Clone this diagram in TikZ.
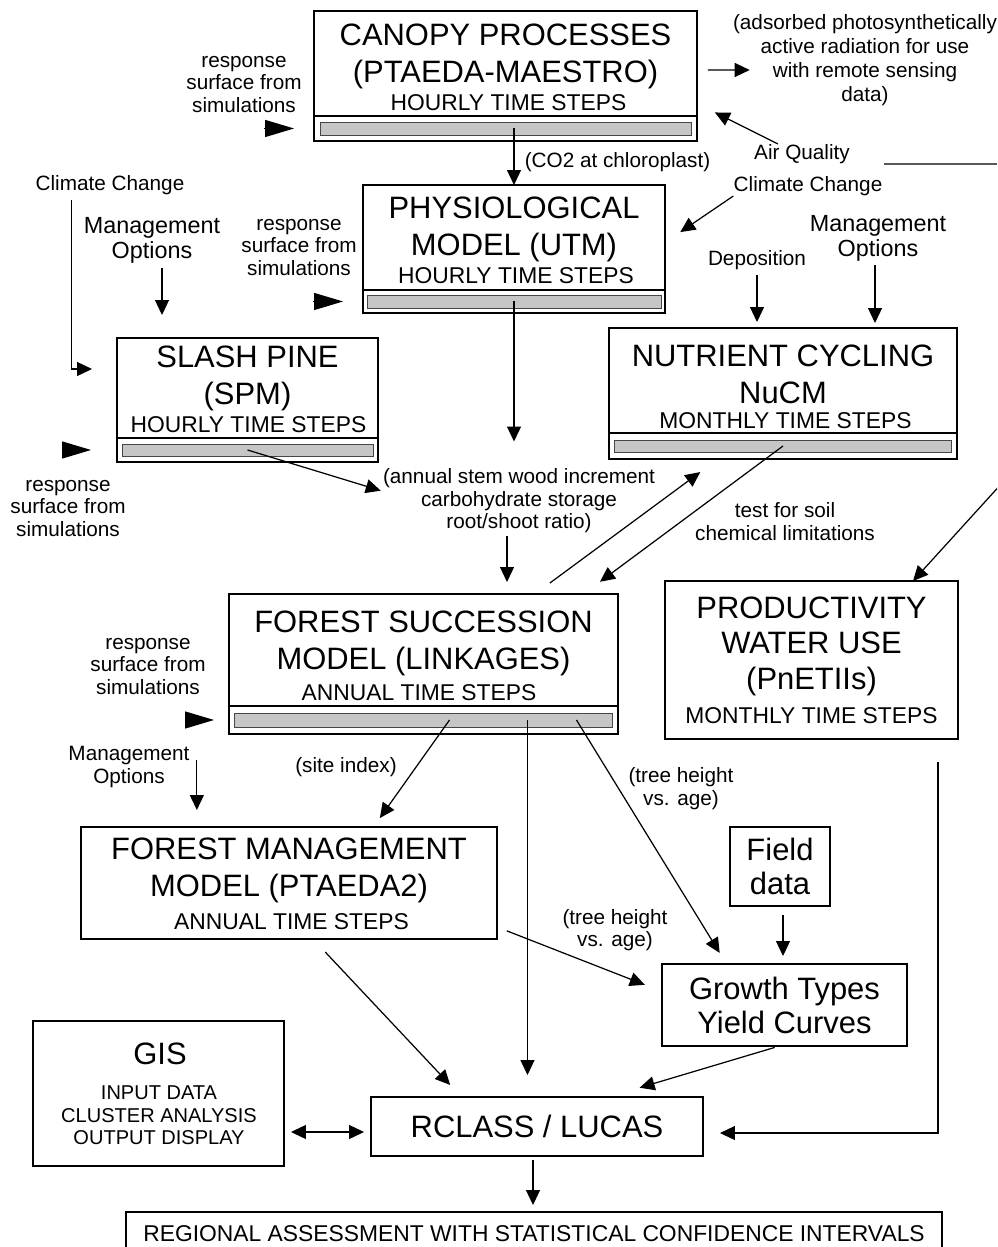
\documentclass[tikz,border=0pt]{standalone}
\usepackage{fontspec}
\setmainfont{Liberation Sans}
\usetikzlibrary{positioning, calc, arrows.meta}

\tikzset{
	box/.style={draw, line width=0.9pt, inner sep=0pt, outer sep=0pt},
	bar/.style={draw=gray!55!black, fill=gray!45, line width=0.4pt, inner sep=0pt},
	ttl/.style={font=\fontsize{17.6}{21}\selectfont, align=center, inner sep=0pt},
	sub/.style={font=\fontsize{13}{15}\selectfont, inner sep=0pt},
	lbl/.style={font=\fontsize{11.8}{12.8}\selectfont, align=center, inner sep=0pt},
	mgt/.style={font=\fontsize{13.3}{14.2}\selectfont, align=center, inner sep=0pt},
	arr/.style={line width=0.7pt, -{Triangle[length=0.3cm,width=0.28cm]}},
	arrs/.style={line width=0.7pt, {Triangle[length=0.3cm,width=0.28cm]}-{Triangle[length=0.3cm,width=0.28cm]}},
	resp/.style={line width=0.7pt, -{Triangle[length=0.58cm,width=0.34cm]}}
}

\begin{document}
\begin{tikzpicture}[x=0.02cm, y=-0.02cm]
	\useasboundingbox (0,0) rectangle (997,1247);
	\clip (0,0) rectangle (997,1247);

	% model boxes with a time step bar
	\node[box, minimum width=7.66cm, minimum height=2.1cm] (canopy) at (505.5,63.5) {};
	\node[box, minimum width=7.66cm, minimum height=0.5cm, below=0pt of canopy] (canlow) {};
	\node[bar, minimum width=7.42cm, minimum height=0.26cm] (canbar) at (canlow) {};
	\node[ttl] (canT) at (505.5,56.8) {CANOPY PROCESSES\\(PTAEDA-MAESTRO)};
	\node[sub] (canS) at (508.5,103) {HOURLY TIME STEPS};

	\node[box, minimum width=6.04cm, minimum height=2.1cm] (physio) at (514,237.5) {};
	\node[box, minimum width=6.04cm, minimum height=0.46cm, below=0pt of physio] (physlow) {};
	\node[bar, minimum width=5.88cm, minimum height=0.26cm] (physbar) at (physlow) {};
	\node[ttl] (physT) at (514,229.8) {PHYSIOLOGICAL\\MODEL (UTM)};
	\node[sub] (physS) at (516,276) {HOURLY TIME STEPS};

	\node[box, minimum width=5.22cm, minimum height=2.0cm] (slash) at (247.5,388) {};
	\node[box, minimum width=5.22cm, minimum height=0.48cm, below=0pt of slash] (slashlow) {};
	\node[bar, minimum width=5.02cm, minimum height=0.24cm] (slashbar) at (slashlow) {};
	\node[ttl] (slashT) at (247.5,378.3) {SLASH PINE\\(SPM)};
	\node[sub] (slashS) at (248.5,425) {HOURLY TIME STEPS};

	\node[box, minimum width=6.96cm, minimum height=2.1cm] (nut) at (783,380.5) {};
	\node[box, minimum width=6.96cm, minimum height=0.52cm, below=0pt of nut] (nutlow) {};
	\node[bar, minimum width=6.74cm, minimum height=0.24cm] (nutbar) at (nutlow) {};
	\node[ttl] (nutT) at (783,374) {NUTRIENT CYCLING\\NuCM};
	\node[sub] (nutS) at (785.5,421) {MONTHLY TIME STEPS};

	\node[box, minimum width=7.78cm, minimum height=2.24cm] (fs) at (423.5,650) {};
	\node[box, minimum width=7.78cm, minimum height=0.56cm, below=0pt of fs] (fslow) {};
	\node[bar, minimum width=7.56cm, minimum height=0.28cm] (fsbar) at (fslow) {};
	\node[ttl] (fsT) at (423.5,643.3) {FOREST SUCCESSION\\MODEL (LINKAGES)};
	\node[sub] (fsS) at (419,693) {ANNUAL TIME STEPS};

	% plain boxes
	\node[box, minimum width=5.86cm, minimum height=3.16cm] (prod) at (811.5,660) {};
	\node[ttl, font=\fontsize{17.6}{20}\selectfont] (prodT) at (811.5,646.3) {PRODUCTIVITY\\WATER USE\\(PnETIIs)};
	\node[sub] (prodS) at (811.5,716) {MONTHLY TIME STEPS};

	\node[box, minimum width=8.32cm, minimum height=2.24cm] (fm) at (289,883) {};
	\node[ttl] (fmT) at (289,870.8) {FOREST MANAGEMENT\\MODEL (PTAEDA2)};
	\node[sub] (fmS) at (291.5,922) {ANNUAL TIME STEPS};

	\node[box, ttl, font=\fontsize{17.6}{19.4}\selectfont, minimum width=2cm, minimum height=1.58cm] (field) at (780,866.5) {Field\\data};
	\node[box, ttl, font=\fontsize{17.6}{19.4}\selectfont, minimum width=4.9cm, minimum height=1.64cm] (growth) at (784.5,1005) {Growth Types\\Yield Curves};

	\node[box, minimum width=5.02cm, minimum height=2.9cm] (gis) at (158.5,1093.5) {};
	\node[ttl] (gisT) at (160,1054) {GIS};
	\node[lbl, font=\fontsize{11.4}{12.8}\selectfont] (gisS) at (159,1115.5) {INPUT DATA\\CLUSTER ANALYSIS\\OUTPUT DISPLAY};

	\node[box, ttl, minimum width=6.64cm, minimum height=1.18cm] (rclass) at (537,1126.5) {RCLASS / LUCAS};
	\node[box, sub, minimum width=16.32cm, minimum height=0.88cm] (regional) at (534,1234) {REGIONAL ASSESSMENT WITH STATISTICAL CONFIDENCE INTERVALS};

	% labels
	\node[lbl, font=\fontsize{11.8}{13.6}\selectfont] (apar) at (865,60) {(adsorbed photosynthetically\\active radiation for use\\with remote sensing\\data)};
	\node[lbl] (rcan) at (244,84.5) {response\\surface from\\simulations};
	\node[lbl] (rphy) at (299,247.5) {response\\surface from\\simulations};
	\node[lbl] (rsla) at (68,508.5) {response\\surface from\\simulations};
	\node[lbl] (rfs) at (148,666.5) {response\\surface from\\simulations};
	\node[lbl] (co2) at (617.5,162) {(CO2 at chloroplast)};
	\node[lbl] (aq) at (802,154) {Air Quality};
	\node[lbl] (cc2) at (808,186) {Climate Change};
	\node[lbl] (cc1) at (110,185) {Climate Change};
	\node[lbl] (dep) at (757,260) {Deposition};
	\node[mgt] (mgr) at (878,238.5) {Management\\Options};
	\node[mgt] (mgl) at (152,240.5) {Management\\Options};
	\node[lbl] (annual) at (519,501) {(annual stem wood increment\\carbohydrate storage\\root/shoot ratio)};
	\node[lbl] (soil) at (785,521.5) {test for soil\\chemical limitations};
	\node[lbl] (site) at (346,767) {(site index)};
	\node[lbl] (th1) at (681,788.5) {(tree height\\vs. age)};
	\node[lbl] (th2) at (615,930) {(tree height\\vs. age)};
	\node[lbl] (mgs) at (129,767) {Management\\Options};

	% response surface inputs
	\draw[resp, shorten >=0.4cm] ([xshift=-1cm]canlow.west) -- (canlow.west);
	\draw[resp, shorten >=0.4cm] ([xshift=-1cm]physlow.west) -- (physlow.west);
	\draw[resp, shorten >=0.52cm] ([xshift=-1.1cm]slashlow.west) -- (slashlow.west);
	\draw[resp, shorten >=0.3cm] ([xshift=-0.88cm]fslow.west) -- (fslow.west);

	% top part
	\draw[arr, shorten <=0.22cm] ([yshift=-0.13cm]canopy.east) -- ([xshift=0.34cm,yshift=-0.2cm]apar.west);
	\draw[arr] (physbar |- canbar) -- (physio.north);
	\draw[arr, shorten >=0.4cm] ($(aq.north west)!0.25!(aq.north east)$) -- ([yshift=-0.8cm]canopy.east);
	\coordinate (edgeT) at (1003,165);
	\coordinate (edgeB) at (1003,482);
	\draw[arr] ([xshift=0.68cm]aq.south east) coordinate (q1) -- (edgeT |- q1) -- (edgeB) -- ([xshift=-0.9cm]prod.north east);
	\draw[arr, shorten >=0.37cm] (cc2.south west) -- ([yshift=-0.1cm]physio.east);
	\draw[arr, shorten <=0.1cm, shorten >=0.12cm] (dep.south) coordinate (d1) -- (d1 |- nut.north);
	\draw[arr, shorten <=0.06cm, shorten >=0.1cm] ([xshift=-0.06cm]mgr.south) coordinate (m2) -- (m2 |- nut.north);
	\draw[arr, shorten <=0.08cm, shorten >=0.46cm] ([xshift=0.2cm]mgl.south) coordinate (m1) -- (m1 |- slash.north);
	\draw[arr, shorten <=0.1cm, shorten >=0.5cm] ([xshift=0.72cm]cc1.south west) |- ([yshift=0.38cm]slash.west);

	% middle part
	\draw[arr, shorten >=0.54cm] (physbar.center) -- (physbar |- annual.north);
	\draw[arr, shorten >=0.04cm] (slashbar.center) -- ($(annual.west)!0.3!(annual.north west)$);
	\draw[arr, shorten <=0.04cm, shorten >=0.24cm] ([xshift=-0.24cm]annual.south) coordinate (a1) -- (a1 |- fs.north);
	\draw[arr, shorten <=0.37cm, shorten >=0.44cm] ([xshift=2.23cm]fs.north) -- ([xshift=-1.3cm]nutlow.south);
	\draw[arr, shorten >=0.41cm] (nutbar.center) -- ([xshift=3.2cm]fs.north);

	% lower part
	\draw[arr, shorten >=0.22cm] ([xshift=0.52cm]fsbar.center) -- ([xshift=1.69cm]fm.north);
	\draw[arr, shorten >=0.44cm] ([xshift=2.08cm]fsbar.center) coordinate (f1) -- (f1 |- rclass.north);
	\draw[arr, shorten >=0.26cm] ([xshift=3.06cm]fsbar.center) -- ([xshift=-1.16cm]growth.north);
	\draw[arr, shorten <=0.28cm, shorten >=0.34cm] ([xshift=0.14cm]mgs.north east) coordinate (m3) -- (m3 |- fm.north);
	\draw[arr, shorten <=0.21cm, shorten >=0.37cm] ([yshift=-0.88cm]fm.east) -- ([yshift=0.27cm]growth.west);
	\draw[arr, shorten <=0.18cm, shorten >=0.16cm] ([xshift=0.06cm]field.south) coordinate (fd) -- (fd |- growth.north);
	\draw[arr, shorten <=0.36cm, shorten >=0.33cm] ([xshift=0.48cm]fm.south) -- ([xshift=-1.51cm]rclass.north);
	\draw[arr, shorten <=0.1cm, shorten >=0.65cm] ([xshift=-0.1cm]growth.south) -- ([xshift=1.43cm]rclass.north);
	\draw[arr, shorten <=0.46cm, shorten >=0.34cm] ([xshift=2.53cm]prod.south) |- ([yshift=-0.13cm]rclass.east);
	\draw[arrs, shorten <=0.14cm, shorten >=0.14cm] ([yshift=-0.77cm]gis.east) coordinate (g1) -- (g1 -| rclass.west);
	\draw[arr, shorten <=0.08cm, shorten >=0.14cm] ([xshift=-0.08cm]rclass.south) coordinate (r1) -- (r1 |- regional.north);
\end{tikzpicture}
\end{document}
